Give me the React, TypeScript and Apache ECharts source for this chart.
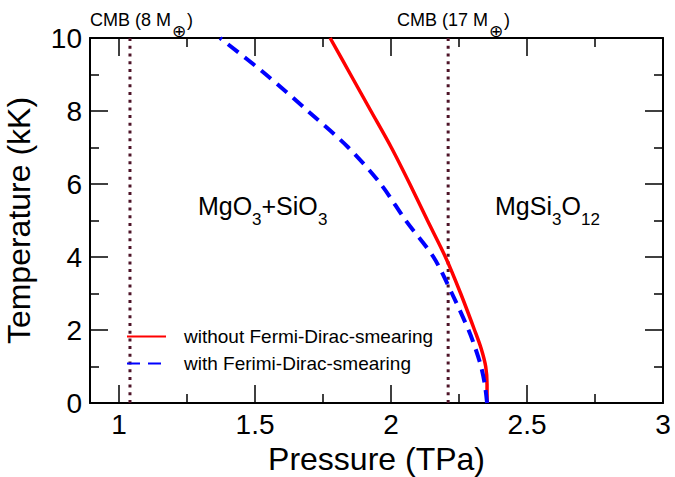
import React, { useEffect, useRef } from "react";
import * as echarts from "echarts";

const temperatures = [0, 0.5, 1, 1.5, 2, 3, 4, 5, 6, 7, 8, 9, 10];
const pressureWithout = [2.353, 2.353, 2.348, 2.331, 2.307, 2.256, 2.2, 2.134, 2.069, 2.001, 1.926, 1.851, 1.776];
const pressureWith = [2.353, 2.345, 2.331, 2.31, 2.285, 2.224, 2.156, 2.054, 1.962, 1.843, 1.694, 1.54, 1.371];
const cmbPressures = [1.04, 2.21];
const xMajorTicks = [1, 1.5, 2, 2.5, 3];
const xMinorTicks = [1.25, 1.75, 2.25, 2.75];
const seriesNames = ["without Fermi-Dirac-smearing", "with Ferimi-Dirac-smearing"];

const FONT = "'Liberation Sans', Arial, Helvetica, sans-serif";
const X_MIN = 0.893;
const X_MAX = 3;

export default function App() {
  const ref = useRef<HTMLDivElement>(null);
  useEffect(() => {
    if (!ref.current) return;
    const chart = echarts.init(ref.current, null, { renderer: "svg" });
    const lineBlack = { lineStyle: { color: "#000", width: 2 } };
    const baseX = (pos: string, ticks: number[], len: number, showLine: boolean, labels: boolean) => ({
      type: "value",
      position: pos,
      min: X_MIN,
      max: X_MAX,
      axisLine: { show: showLine, onZero: false, ...lineBlack },
      axisTick: { show: true, inside: true, length: len, customValues: ticks, lineStyle: { color: "#000", width: 1.5 } },
      axisLabel: labels
        ? { show: true, customValues: xMajorTicks, fontSize: 28, color: "#000", fontFamily: FONT, margin: 7 }
        : { show: false },
      splitLine: { show: false },
    });
    const baseY = (pos: string, labels: boolean) => ({
      type: "value",
      position: pos,
      min: 0,
      max: 10,
      interval: 2,
      axisLine: { show: true, onZero: false, ...lineBlack },
      axisTick: { show: true, inside: true, length: 18, lineStyle: { color: "#000", width: 1.5 } },
      minorTick: { show: true, splitNumber: 2, length: 9, lineStyle: { color: "#000", width: 1.5 } },
      axisLabel: labels ? { show: true, fontSize: 28, color: "#000", fontFamily: FONT, margin: 8 } : { show: false },
      splitLine: { show: false },
      minorSplitLine: { show: false },
      name: labels ? "Temperature (kK)" : "",
      nameLocation: "middle",
      nameGap: 55,
      nameTextStyle: { fontSize: 32, color: "#000", fontFamily: FONT },
    });
    const xBottom: any = baseX("bottom", xMajorTicks, 18, true, true);
    xBottom.name = "Pressure (TPa)";
    xBottom.nameLocation = "middle";
    xBottom.nameGap = 32;
    xBottom.nameTextStyle = { fontSize: 32, color: "#000", fontFamily: FONT };

    const mk = (p: number[]) => temperatures.map((t, i) => [p[i], t]);

    const txt = (text: string, x: number, y: number, size: number, family = FONT) => ({
      type: "text",
      x,
      y,
      style: { text, font: `${size}px ${family}`, fill: "#000", align: "left", verticalAlign: "middle" },
    });

    const option: any = {
      animation: false,
      backgroundColor: "#fff",
      grid: { left: 90, right: 12, top: 38, bottom: 74, outerBoundsMode: "none", containLabel: false },
      xAxis: [
        xBottom,
        baseX("bottom", xMinorTicks, 9, false, false),
        baseX("top", xMajorTicks, 18, true, false),
        baseX("top", xMinorTicks, 9, false, false),
      ],
      yAxis: [baseY("left", true), baseY("right", false)],
      legend: {
        data: seriesNames,
        orient: "vertical",
        left: 121,
        top: 322,
        itemWidth: 39,
        itemHeight: 18,
        itemGap: 8,
        itemStyle: { color: "transparent", borderColor: "transparent", borderWidth: 0 },
        textStyle: { fontSize: 19, color: "#000", fontFamily: FONT, padding: [0, 0, 0, 13] },
      },
      series: [
        ...cmbPressures.map((p, i) => ({
          name: "cmb" + i,
          type: "line",
          data: [[p, 0], [p, 10]],
          symbol: "none",
          lineStyle: { color: "#4e1428", width: 3, type: [3, 4.7] },
          silent: true,
        })),
        {
          name: seriesNames[0],
          type: "line",
          data: mk(pressureWithout),
          smooth: 0.3,
          symbol: "none",
          lineStyle: { color: "#ff0000", width: 3.5 },
          itemStyle: { color: "#ff0000" },
          z: 3,
        },
        {
          name: seriesNames[1],
          type: "line",
          data: mk(pressureWith),
          smooth: 0.3,
          symbol: "none",
          lineStyle: { color: "#0000ff", width: 4, type: [13, 8] },
          itemStyle: { color: "#0000ff" },
          z: 4,
        },
      ],
      graphic: [
        txt("CMB (8 M", 90, 20, 18),
        txt("⊕", 172, 31, 17, "'DejaVu Sans', sans-serif"),
        txt(")", 187, 20, 18),
        txt("CMB (17 M", 397, 20, 18),
        txt("⊕", 489, 31, 17, "'DejaVu Sans', sans-serif"),
        txt(")", 504, 20, 18),
        txt("MgO", 198, 206, 25),
        txt("3", 252, 219, 17),
        txt("+SiO", 261.5, 206, 25),
        txt("3", 318, 219, 17),
        txt("MgSi", 495, 206, 25),
        txt("3", 552, 219, 17),
        txt("O", 561.5, 206, 25),
        txt("12", 581, 219, 17),
      ],
    };
    chart.setOption(option);
    return () => chart.dispose();
  }, []);
  return <div ref={ref} style={{ width: 675, height: 477, position: "absolute", left: 0, top: 0 }} />;
}
